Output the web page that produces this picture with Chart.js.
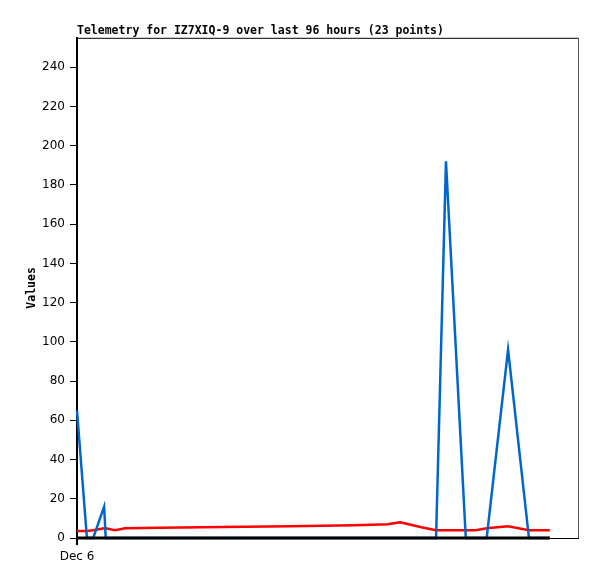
<!DOCTYPE html>
<html lang="en">
<head>
  <meta charset="UTF-8">
  <title>Telemetry for IZ7XIQ-9</title>
  <script src="https://cdn.jsdelivr.net/npm/chart.js"></script>
  <style>
    html, body { margin: 0; padding: 0; background: #fff; }
    #wrap { width: 597px; height: 579px; }
  </style>
</head>
<body>
  <div id="wrap"><canvas id="telemetry" width="597" height="579"></canvas></div>

  <script>
    // hours since Dec 6 00:00
    const hours = [0, 1.9, 3.1, 5.2, 5.5, 7.3, 9.2, 15.9, 28, 40.8, 53.3, 59.5, 61.9, 66, 68.8, 70.7, 74.5, 76.4, 78.5, 82.6, 86.6, 88.6, 90.6];
    const blueValues = [65, 0, 0, 16, 0, 0, 0, 0, 0, 0, 0, 0, 0, 0, 0, 192, 0, 0, 0, 96, 0, 0, 0];
    const redValues = [3.6, 3.6, 4, 5, 5, 4, 5, 5.2, 5.6, 6, 6.5, 7, 8, 5.5, 4, 4, 4, 4, 5, 6, 4, 4, 4];
    const zeroValues = [0, 0, 0, 0, 0, 0, 0, 0, 0, 0, 0, 0, 0, 0, 0, 0, 0, 0, 0, 0, 0, 0, 0];
    const xTickLabels = ['Dec 6'];
    const yMax = 255;

    const toPoints = vals => vals.map((v, i) => ({ x: hours[i], y: v }));

    // top and right frame lines
    const frame = {
      id: 'frame',
      afterDraw(chart) {
        const { ctx, chartArea: a } = chart;
        ctx.save();
        ctx.lineWidth = 1;
        ctx.strokeStyle = '#000';
        ctx.beginPath();
        ctx.moveTo(a.left, a.top + 0.5);
        ctx.lineTo(a.right, a.top + 0.5);
        ctx.stroke();
        ctx.strokeStyle = '#555';
        ctx.beginPath();
        ctx.moveTo(a.right + 0.5, a.top);
        ctx.lineTo(a.right + 0.5, a.bottom);
        ctx.stroke();
        ctx.restore();
      }
    };

    const ctx = document.getElementById('telemetry').getContext('2d');
    new Chart(ctx, {
      type: 'line',
      data: {
        datasets: [
          // first dataset is painted last (on top)
          { label: 'Zero', data: toPoints(zeroValues), borderColor: '#000', borderWidth: 3, clip: 4 },
          { label: 'Value 1', data: toPoints(blueValues), borderColor: '#0066cc', borderWidth: 2.5, clip: 4 },
          { label: 'Value 2', data: toPoints(redValues), borderColor: '#ff0000', borderWidth: 2.5, clip: 4 }
        ]
      },
      options: {
        responsive: false,
        animation: false,
        events: [],
        elements: { point: { radius: 0 }, line: { tension: 0 } },
        layout: { padding: { top: 0, right: 19, left: 0, bottom: 0 } },
        plugins: {
          legend: { display: false },
          tooltip: { enabled: false },
          title: {
            display: true,
            fullSize: false,
            align: 'start',
            text: 'Telemetry for IZ7XIQ-9 over last 96 hours (23 points)',
            color: '#000',
            font: { family: 'DejaVu Sans Mono', size: 11.5, weight: 'bold' },
            padding: { top: 24, bottom: 0 }
          }
        },
        scales: {
          x: {
            type: 'linear',
            min: 0,
            max: 96,
            afterBuildTicks: s => { s.ticks = [{ value: 0 }]; },
            afterFit: s => { s.height = 41; },
            ticks: {
              callback: (v, i) => xTickLabels[i],
              color: '#000',
              font: { family: 'DejaVu Sans', size: 12 },
              maxRotation: 0,
              padding: 5
            },
            grid: { drawOnChartArea: false, tickLength: 7, color: '#000', lineWidth: 2 },
            border: { color: '#000', width: 1 }
          },
          y: {
            min: 0,
            max: yMax,
            afterBuildTicks: s => { s.ticks = s.ticks.filter(t => t.value % 20 === 0); },
            afterFit: s => { s.width = 77; },
            ticks: {
              stepSize: 20,
              color: '#000',
              font: { family: 'DejaVu Sans', size: 12 },
              padding: 5
            },
            grid: { drawOnChartArea: false, tickLength: 7, color: '#000', lineWidth: 1 },
            border: { color: '#000', width: 2 },
            title: {
              display: true,
              text: 'Values',
              color: '#000',
              font: { family: 'DejaVu Sans Mono', size: 11.5, weight: 'bold' },
              padding: { top: 25, bottom: 0 }
            }
          }
        }
      },
      plugins: [frame]
    });
  </script>
</body>
</html>
